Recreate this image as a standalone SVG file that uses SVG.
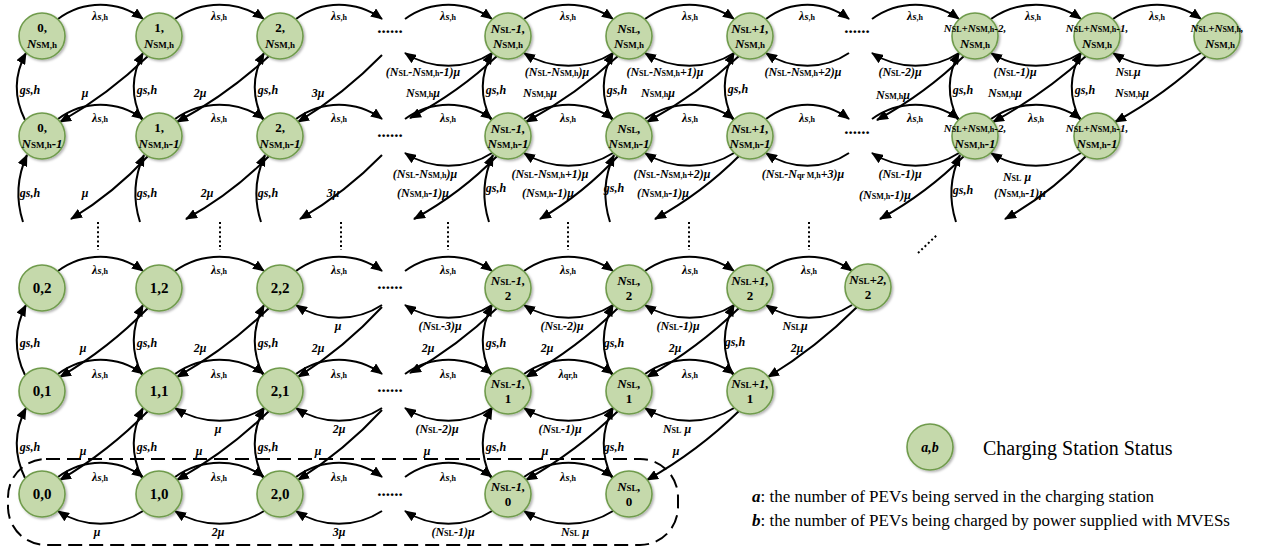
<svg xmlns="http://www.w3.org/2000/svg" width="1261" height="554" viewBox="0 0 1261 554">
<defs>
<marker id="ah" viewBox="0 0 12 10" refX="11" refY="5" markerWidth="12" markerHeight="10" orient="auto" markerUnits="userSpaceOnUse"><path d="M0,0 L12,5 L0,10 z" fill="#000"/></marker>
<filter id="sh" x="-20%" y="-20%" width="150%" height="150%"><feDropShadow dx="1.5" dy="1.5" stdDeviation="1.2" flood-color="#000" flood-opacity="0.3"/></filter>
<style>
.c{fill:none;stroke:#000;stroke-width:2;marker-end:url(#ah)}
.nd{fill:#c5d9ab;stroke:#6f9b4c;stroke-width:1.6;filter:url(#sh)}
.t{font-family:"Liberation Serif",serif;font-weight:bold;font-style:italic;font-size:12px;text-anchor:middle;fill:#000}
.b{font-size:8px;font-style:normal}
.m{font-size:10.5px}
.nt{font-family:"Liberation Serif",serif;font-weight:bold;font-size:13px;text-anchor:middle;fill:#000}
.i{font-style:italic}
.ns{font-size:9px;font-style:normal}
.sm{font-size:11px}
.ss{font-size:8px;font-style:normal}
.big{font-size:15px}
.dots{font-family:"Liberation Serif",serif;font-weight:bold;font-size:17px;text-anchor:middle}
.vd{stroke:#000;stroke-width:2;stroke-dasharray:2 2.6;fill:none}
.leg{font-family:"Liberation Serif",serif;fill:#000}
</style>
</defs>
<rect width="1261" height="554" fill="#fff"/>
<g id="connectors">
<rect x="8" y="459" width="670" height="86" rx="38" fill="none" stroke="#000" stroke-width="2" stroke-dasharray="14 7"/>
<path class="c" d="M58,19 C83.5,0 117.5,0 143,19"/>
<path class="c" d="M175,19 C201.7,0 237.3,0 264,19"/>
<path class="c" d="M296,19 C321.8,0 356.2,0 382,19"/>
<path class="c" d="M405,19 C431.1,0 465.9,0 492,19"/>
<path class="c" d="M524,19 C550.7,0 586.3,0 613,19"/>
<path class="c" d="M645,19 C671.7,0 707.3,0 734,19"/>
<path class="c" d="M766,19 C790.9,0 824.1,0 849,19"/>
<path class="c" d="M872,19 C898.1,0 932.9,0 959,19"/>
<path class="c" d="M991,19 C1018,0 1054,0 1081,19"/>
<path class="c" d="M1113,19 C1139.4,0 1174.6,0 1201,19"/>
<path class="c" d="M58,119 C83.5,100 117.5,100 143,119"/>
<path class="c" d="M175,119 C201.7,100 237.3,100 264,119"/>
<path class="c" d="M296,119 C321.8,100 356.2,100 382,119"/>
<path class="c" d="M405,119 C431.1,100 465.9,100 492,119"/>
<path class="c" d="M524,119 C550.7,100 586.3,100 613,119"/>
<path class="c" d="M645,119 C671.7,100 707.3,100 734,119"/>
<path class="c" d="M766,119 C790.9,100 824.1,100 849,119"/>
<path class="c" d="M872,119 C898.1,100 932.9,100 959,119"/>
<path class="c" d="M991,119 C1018,100 1054,100 1081,119"/>
<path class="c" d="M58,271 C83.5,252 117.5,252 143,271"/>
<path class="c" d="M175,271 C201.7,252 237.3,252 264,271"/>
<path class="c" d="M296,271 C321.8,252 356.2,252 382,271"/>
<path class="c" d="M405,271 C431.1,252 465.9,252 492,271"/>
<path class="c" d="M524,271 C550.7,252 586.3,252 613,271"/>
<path class="c" d="M645,271 C671.7,252 707.3,252 734,271"/>
<path class="c" d="M766,271 C791.8,252 826.2,252 852,271"/>
<path class="c" d="M58,374 C83.5,355 117.5,355 143,374"/>
<path class="c" d="M175,374 C201.7,355 237.3,355 264,374"/>
<path class="c" d="M296,374 C321.8,355 356.2,355 382,374"/>
<path class="c" d="M405,374 C431.1,355 465.9,355 492,374"/>
<path class="c" d="M524,374 C550.7,355 586.3,355 613,374"/>
<path class="c" d="M645,374 C671.7,355 707.3,355 734,374"/>
<path class="c" d="M58,477 C83.5,458 117.5,458 143,477"/>
<path class="c" d="M175,477 C201.7,458 237.3,458 264,477"/>
<path class="c" d="M296,477 C321.8,458 356.2,458 382,477"/>
<path class="c" d="M405,477 C431.1,458 465.9,458 492,477"/>
<path class="c" d="M524,477 C550.7,458 586.3,458 613,477"/>
<path class="c" d="M492,53 C465.9,70 431.1,70 405,53"/>
<path class="c" d="M613,53 C586.3,70 550.7,70 524,53"/>
<path class="c" d="M734,53 C707.3,70 671.7,70 645,53"/>
<path class="c" d="M849,53 C824.1,70 790.9,70 766,53"/>
<path class="c" d="M959,53 C932.9,70 898.1,70 872,53"/>
<path class="c" d="M1081,53 C1054,70 1018,70 991,53"/>
<path class="c" d="M1201,53 C1174.6,70 1139.4,70 1113,53"/>
<path class="c" d="M492,153 C465.9,170 431.1,170 405,153"/>
<path class="c" d="M613,153 C586.3,170 550.7,170 524,153"/>
<path class="c" d="M734,153 C707.3,170 671.7,170 645,153"/>
<path class="c" d="M849,153 C824.1,170 790.9,170 766,153"/>
<path class="c" d="M959,153 C932.9,170 898.1,170 872,153"/>
<path class="c" d="M1081,153 C1054,170 1018,170 991,153"/>
<path class="c" d="M382,305 C356.2,322 321.8,322 296,305"/>
<path class="c" d="M492,305 C465.9,322 431.1,322 405,305"/>
<path class="c" d="M613,305 C586.3,322 550.7,322 524,305"/>
<path class="c" d="M734,305 C707.3,322 671.7,322 645,305"/>
<path class="c" d="M852,305 C826.2,322 791.8,322 766,305"/>
<path class="c" d="M264,408 C237.3,425 201.7,425 175,408"/>
<path class="c" d="M382,408 C356.2,425 321.8,425 296,408"/>
<path class="c" d="M492,408 C465.9,425 431.1,425 405,408"/>
<path class="c" d="M613,408 C586.3,425 550.7,425 524,408"/>
<path class="c" d="M734,408 C707.3,425 671.7,425 645,408"/>
<path class="c" d="M143,511 C117.5,528 83.5,528 58,511"/>
<path class="c" d="M264,511 C237.3,528 201.7,528 175,511"/>
<path class="c" d="M382,511 C356.2,528 321.8,528 296,511"/>
<path class="c" d="M492,511 C465.9,528 431.1,528 405,511"/>
<path class="c" d="M613,511 C586.3,528 550.7,528 524,511"/>
<path class="c" d="M148,56 Q109,94 60,122"/>
<path class="c" d="M269,56 Q228,94 177,122"/>
<path class="c" d="M382,55 Q345,93 298,122"/>
<path class="c" d="M497,56 Q459,92 410,118"/>
<path class="c" d="M618,56 Q577,94 526,122"/>
<path class="c" d="M739,56 Q698,94 647,122"/>
<path class="c" d="M964,56 Q926,93 877,120"/>
<path class="c" d="M1086,56 Q1044,94 993,122"/>
<path class="c" d="M1206,56 Q1166,94 1115,122"/>
<path class="c" d="M148,156 Q114,193 71,219"/>
<path class="c" d="M269,156 Q233,193 186,219"/>
<path class="c" d="M382,155 Q346,192 300,219"/>
<path class="c" d="M497,156 Q461,193 414,219"/>
<path class="c" d="M618,156 Q584,193 540,219"/>
<path class="c" d="M739,156 Q702,193 655,219"/>
<path class="c" d="M964,156 Q927,193 880,219"/>
<path class="c" d="M1086,156 Q1051,193 1005,219"/>
<path class="c" d="M148,308 Q109,348 60,377"/>
<path class="c" d="M269,308 Q228,348 177,377"/>
<path class="c" d="M382,307 Q345,347 298,377"/>
<path class="c" d="M497,308 Q458,346 410,373"/>
<path class="c" d="M618,308 Q577,348 526,377"/>
<path class="c" d="M739,308 Q698,348 647,377"/>
<path class="c" d="M857,307 Q817,347 768,377"/>
<path class="c" d="M148,411 Q109,451 60,480"/>
<path class="c" d="M269,411 Q228,451 177,480"/>
<path class="c" d="M382,410 Q345,450 298,480"/>
<path class="c" d="M618,411 Q577,451 526,480"/>
<path class="c" d="M739,411 Q698,451 647,480"/>
<path class="c" d="M25,120 Q8,86 26,53"/>
<path class="c" d="M142,120 Q125,86 143,53"/>
<path class="c" d="M263,120 Q246,86 264,53"/>
<path class="c" d="M491,120 Q474,86 492,53"/>
<path class="c" d="M612,120 Q595,86 613,53"/>
<path class="c" d="M733,120 Q716,86 734,53"/>
<path class="c" d="M958,120 Q941,86 959,53"/>
<path class="c" d="M1080,120 Q1063,86 1081,53"/>
<path class="c" d="M23,222 Q12,188 27,155"/>
<path class="c" d="M140,222 Q129,188 144,155"/>
<path class="c" d="M261,222 Q250,188 265,155"/>
<path class="c" d="M489,222 Q478,188 493,155"/>
<path class="c" d="M610,222 Q599,188 614,155"/>
<path class="c" d="M956,222 Q945,188 960,155"/>
<path class="c" d="M25,375 Q8,340 26,305"/>
<path class="c" d="M142,375 Q125,340 143,305"/>
<path class="c" d="M263,375 Q246,340 264,305"/>
<path class="c" d="M491,375 Q474,340 492,305"/>
<path class="c" d="M612,375 Q595,340 613,305"/>
<path class="c" d="M733,375 Q716,340 734,305"/>
<path class="c" d="M25,478 Q8,443 26,408"/>
<path class="c" d="M142,478 Q125,443 143,408"/>
<path class="c" d="M263,478 Q246,443 264,408"/>
<path class="c" d="M491,478 Q474,443 492,408"/>
<path class="c" d="M612,478 Q595,443 613,408"/>
<path class="vd" d="M98,222V250 M220,222V250 M341,222V250 M448,222V250 M568,222V250 M689,222V250 M809,222V250 M918,253L937,235"/>
<g class="dots">
<text x="390" y="33">......</text><text x="857" y="33">......</text>
<text x="390" y="137">......</text><text x="857" y="134">......</text>
<text x="390" y="289">......</text><text x="390" y="392">......</text><text x="390" y="496">......</text>
</g>
</g>
<g id="connector-labels" class="t">
<text x="100" y="20">λ<tspan class="m">s</tspan><tspan class="b">,h</tspan></text>
<text x="219" y="20">λ<tspan class="m">s</tspan><tspan class="b">,h</tspan></text>
<text x="339" y="20">λ<tspan class="m">s</tspan><tspan class="b">,h</tspan></text>
<text x="448" y="20">λ<tspan class="m">s</tspan><tspan class="b">,h</tspan></text>
<text x="568" y="20">λ<tspan class="m">s</tspan><tspan class="b">,h</tspan></text>
<text x="690" y="20">λ<tspan class="m">s</tspan><tspan class="b">,h</tspan></text>
<text x="807" y="20">λ<tspan class="m">s</tspan><tspan class="b">,h</tspan></text>
<text x="915" y="20">λ<tspan class="m">s</tspan><tspan class="b">,h</tspan></text>
<text x="1033" y="20">λ<tspan class="m">s</tspan><tspan class="b">,h</tspan></text>
<text x="1157" y="20">λ<tspan class="m">s</tspan><tspan class="b">,h</tspan></text>
<text x="100" y="122">λ<tspan class="m">s</tspan><tspan class="b">,h</tspan></text>
<text x="219" y="122">λ<tspan class="m">s</tspan><tspan class="b">,h</tspan></text>
<text x="339" y="122">λ<tspan class="m">s</tspan><tspan class="b">,h</tspan></text>
<text x="448" y="122">λ<tspan class="m">s</tspan><tspan class="b">,h</tspan></text>
<text x="568" y="122">λ<tspan class="m">s</tspan><tspan class="b">,h</tspan></text>
<text x="690" y="122">λ<tspan class="m">s</tspan><tspan class="b">,h</tspan></text>
<text x="807" y="122">λ<tspan class="m">s</tspan><tspan class="b">,h</tspan></text>
<text x="915" y="122">λ<tspan class="m">s</tspan><tspan class="b">,h</tspan></text>
<text x="1036" y="122">λ<tspan class="m">s</tspan><tspan class="b">,h</tspan></text>
<text x="100" y="274">λ<tspan class="m">s</tspan><tspan class="b">,h</tspan></text>
<text x="219" y="274">λ<tspan class="m">s</tspan><tspan class="b">,h</tspan></text>
<text x="339" y="274">λ<tspan class="m">s</tspan><tspan class="b">,h</tspan></text>
<text x="448" y="274">λ<tspan class="m">s</tspan><tspan class="b">,h</tspan></text>
<text x="568" y="274">λ<tspan class="m">s</tspan><tspan class="b">,h</tspan></text>
<text x="690" y="274">λ<tspan class="m">s</tspan><tspan class="b">,h</tspan></text>
<text x="809" y="274">λ<tspan class="m">s</tspan><tspan class="b">,h</tspan></text>
<text x="100" y="378">λ<tspan class="m">s</tspan><tspan class="b">,h</tspan></text>
<text x="219" y="378">λ<tspan class="m">s</tspan><tspan class="b">,h</tspan></text>
<text x="339" y="378">λ<tspan class="m">s</tspan><tspan class="b">,h</tspan></text>
<text x="448" y="378">λ<tspan class="m">s</tspan><tspan class="b">,h</tspan></text>
<text x="568" y="378">λ<tspan class="b">qr,h</tspan></text>
<text x="690" y="378">λ<tspan class="m">s</tspan><tspan class="b">,h</tspan></text>
<text x="100" y="481">λ<tspan class="m">s</tspan><tspan class="b">,h</tspan></text>
<text x="219" y="481">λ<tspan class="m">s</tspan><tspan class="b">,h</tspan></text>
<text x="339" y="481">λ<tspan class="m">s</tspan><tspan class="b">,h</tspan></text>
<text x="448" y="481">λ<tspan class="m">s</tspan><tspan class="b">,h</tspan></text>
<text x="568" y="481">λ<tspan class="m">s</tspan><tspan class="b">,h</tspan></text>
<text x="423" y="76">(N<tspan class="b">SL</tspan>-N<tspan class="b">SM,h</tspan>-1)μ</text>
<text x="557" y="76">(N<tspan class="b">SL</tspan>-N<tspan class="b">SM,h</tspan>)μ</text>
<text x="665" y="76">(N<tspan class="b">SL</tspan>-N<tspan class="b">SM,h</tspan>+1)μ</text>
<text x="803" y="76">(N<tspan class="b">SL</tspan>-N<tspan class="b">SM,h</tspan>+2)μ</text>
<text x="900" y="76">(N<tspan class="b">SL</tspan>-2)μ</text>
<text x="1015" y="76">(N<tspan class="b">SL</tspan>-1)μ</text>
<text x="1128" y="76">N<tspan class="b">SL</tspan>μ</text>
<text x="425" y="178">(N<tspan class="b">SL</tspan>-N<tspan class="b">SM,h</tspan>)μ</text>
<text x="550" y="178">(N<tspan class="b">SL</tspan>-N<tspan class="b">SM,h</tspan>+1)μ</text>
<text x="672" y="178">(N<tspan class="b">SL</tspan>-N<tspan class="b">SM,h</tspan>+2)μ</text>
<text x="803" y="178">(N<tspan class="b">SL</tspan>-N<tspan class="b">qr M,h</tspan>+3)μ</text>
<text x="900" y="178">(N<tspan class="b">SL</tspan>-1)μ</text>
<text x="1017" y="181">N<tspan class="b">SL</tspan> μ</text>
<text x="338" y="330">μ</text>
<text x="440" y="330">(N<tspan class="b">SL</tspan>-3)μ</text>
<text x="562" y="330">(N<tspan class="b">SL</tspan>-2)μ</text>
<text x="678" y="330">(N<tspan class="b">SL</tspan>-1)μ</text>
<text x="795" y="330">N<tspan class="b">SL</tspan>μ</text>
<text x="218" y="433">μ</text>
<text x="339" y="433">2μ</text>
<text x="437" y="433">(N<tspan class="b">SL</tspan>-2)μ</text>
<text x="560" y="433">(N<tspan class="b">SL</tspan>-1)μ</text>
<text x="677" y="433">N<tspan class="b">SL</tspan> μ</text>
<text x="97" y="536">μ</text>
<text x="218" y="536">2μ</text>
<text x="339" y="536">3μ</text>
<text x="453" y="536">(N<tspan class="b">SL</tspan>-1)μ</text>
<text x="575" y="536">N<tspan class="b">SL</tspan> μ</text>
<text x="85" y="97">μ</text>
<text x="200" y="97">2μ</text>
<text x="318" y="97">3μ</text>
<text x="423" y="97">N<tspan class="b">SM,h</tspan>μ</text>
<text x="540" y="97">N<tspan class="b">SM,h</tspan>μ</text>
<text x="658" y="97">N<tspan class="b">SM,h</tspan>μ</text>
<text x="893" y="99">N<tspan class="b">SM,h</tspan>μ</text>
<text x="1005" y="97">N<tspan class="b">SM,h</tspan>μ</text>
<text x="1132" y="97">N<tspan class="b">SM,h</tspan>μ</text>
<text x="85" y="197">μ</text>
<text x="207" y="197">2μ</text>
<text x="333" y="197">3μ</text>
<text x="423" y="197">(N<tspan class="b">SM,h</tspan>-1)μ</text>
<text x="548" y="197">(N<tspan class="b">SM,h</tspan>-1)μ</text>
<text x="663" y="197">(N<tspan class="b">SM,h</tspan>-1)μ</text>
<text x="885" y="199">(N<tspan class="b">SM,h</tspan>-1)μ</text>
<text x="1020" y="197">(N<tspan class="b">SM,h</tspan>-1)μ</text>
<text x="83" y="352">μ</text>
<text x="200" y="352">2μ</text>
<text x="318" y="352">2μ</text>
<text x="428" y="352">2μ</text>
<text x="547" y="352">2μ</text>
<text x="675" y="352">2μ</text>
<text x="797" y="352">2μ</text>
<text x="83" y="455">μ</text>
<text x="199" y="455">μ</text>
<text x="318" y="455">μ</text>
<text x="427" y="455">μ</text>
<text x="545" y="455">μ</text>
<text x="676" y="455">μ</text>
<text x="30" y="94">gs,h</text><text x="147" y="94">gs,h</text><text x="268" y="94">gs,h</text><text x="496" y="94">gs,h</text><text x="617" y="94">gs,h</text><text x="738" y="93">gs,h</text><text x="963" y="94">gs,h</text><text x="1085" y="94">gs,h</text>
<text x="30" y="197">gs,h</text><text x="147" y="197">gs,h</text><text x="268" y="197">gs,h</text><text x="496" y="192">gs,h</text><text x="614" y="192">gs,h</text><text x="963" y="194">gs,h</text>
<text x="30" y="347">gs,h</text><text x="147" y="347">gs,h</text><text x="268" y="347">gs,h</text><text x="496" y="347">gs,h</text><text x="614" y="347">gs,h</text><text x="735" y="346">gs,h</text>
<text x="30" y="451">gs,h</text><text x="147" y="451">gs,h</text><text x="268" y="451">gs,h</text><text x="496" y="451">gs,h</text><text x="614" y="451">gs,h</text>
</g>
<g id="n-0-NSMh"><circle class="nd" cx="42" cy="36" r="23"/><text class="nt" x="42" y="32">0,</text><text class="nt" x="42" y="48"><tspan class="i">N</tspan><tspan class="ns">SM,h</tspan></text></g>
<g id="n-1-NSMh"><circle class="nd" cx="159" cy="36" r="23"/><text class="nt" x="159" y="32">1,</text><text class="nt" x="159" y="48"><tspan class="i">N</tspan><tspan class="ns">SM,h</tspan></text></g>
<g id="n-2-NSMh"><circle class="nd" cx="280" cy="36" r="23"/><text class="nt" x="280" y="32">2,</text><text class="nt" x="280" y="48"><tspan class="i">N</tspan><tspan class="ns">SM,h</tspan></text></g>
<g id="n-NSLm1-NSMh"><circle class="nd" cx="508" cy="36" r="23"/><text class="nt i" x="508" y="33">N<tspan class="ns">SL</tspan>-1,</text><text class="nt i" x="508" y="48">N<tspan class="ns">SM,h</tspan></text></g>
<g id="n-NSL-NSMh"><circle class="nd" cx="629" cy="36" r="23"/><text class="nt i" x="629" y="33">N<tspan class="ns">SL</tspan>,</text><text class="nt i" x="629" y="48">N<tspan class="ns">SM,h</tspan></text></g>
<g id="n-NSLp1-NSMh"><circle class="nd" cx="750" cy="36" r="23"/><text class="nt i" x="750" y="33">N<tspan class="ns">SL</tspan>+1,</text><text class="nt i" x="750" y="48">N<tspan class="ns">SM,h</tspan></text></g>
<g id="n-NSLpNSMm2-NSMh"><circle class="nd" cx="975" cy="36" r="23"/><text class="nt i sm" x="975" y="32">N<tspan class="ss">SL</tspan>+N<tspan class="ss">SM,h</tspan>-2,</text><text class="nt i" x="975" y="48">N<tspan class="ns">SM,h</tspan></text></g>
<g id="n-NSLpNSMm1-NSMh"><circle class="nd" cx="1097" cy="36" r="23"/><text class="nt i sm" x="1097" y="32">N<tspan class="ss">SL</tspan>+N<tspan class="ss">SM,h</tspan>-1,</text><text class="nt i" x="1097" y="48">N<tspan class="ns">SM,h</tspan></text></g>
<g id="n-NSLpNSM-NSMh"><circle class="nd" cx="1217" cy="36" r="23"/><text class="nt i sm" x="1217" y="32">N<tspan class="ss">SL</tspan>+N<tspan class="ss">SM,h</tspan>,</text><text class="nt i" x="1220" y="48">N<tspan class="ns">SM,h</tspan></text></g>
<g id="n-0-NSMhm1"><circle class="nd" cx="42" cy="136" r="23"/><text class="nt" x="42" y="132">0,</text><text class="nt i" x="42" y="148">N<tspan class="ns">SM,h</tspan>-1</text></g>
<g id="n-1-NSMhm1"><circle class="nd" cx="159" cy="136" r="23"/><text class="nt" x="159" y="132">1,</text><text class="nt i" x="159" y="148">N<tspan class="ns">SM,h</tspan>-1</text></g>
<g id="n-2-NSMhm1"><circle class="nd" cx="280" cy="136" r="23"/><text class="nt" x="280" y="132">2,</text><text class="nt i" x="280" y="148">N<tspan class="ns">SM,h</tspan>-1</text></g>
<g id="n-NSLm1-NSMhm1"><circle class="nd" cx="508" cy="136" r="23"/><text class="nt i" x="508" y="133">N<tspan class="ns">SL</tspan>-1,</text><text class="nt i" x="508" y="148">N<tspan class="ns">SM,h</tspan>-1</text></g>
<g id="n-NSL-NSMhm1"><circle class="nd" cx="629" cy="136" r="23"/><text class="nt i" x="629" y="133">N<tspan class="ns">SL</tspan>,</text><text class="nt i" x="629" y="148">N<tspan class="ns">SM,h</tspan>-1</text></g>
<g id="n-NSLp1-NSMhm1"><circle class="nd" cx="750" cy="136" r="23"/><text class="nt i" x="750" y="133">N<tspan class="ns">SL</tspan>+1,</text><text class="nt i" x="750" y="148">N<tspan class="ns">SM,h</tspan>-1</text></g>
<g id="n-NSLpNSMm2-NSMhm1"><circle class="nd" cx="975" cy="136" r="23"/><text class="nt i sm" x="975" y="132">N<tspan class="ss">SL</tspan>+N<tspan class="ss">SM,h</tspan>-2,</text><text class="nt i" x="975" y="148">N<tspan class="ns">SM,h</tspan>-1</text></g>
<g id="n-NSLpNSMm1-NSMhm1"><circle class="nd" cx="1097" cy="136" r="23"/><text class="nt i sm" x="1097" y="132">N<tspan class="ss">SL</tspan>+N<tspan class="ss">SM,h</tspan>-1,</text><text class="nt i" x="1097" y="148">N<tspan class="ns">SM,h</tspan>-1</text></g>
<g id="n-0-2"><circle class="nd" cx="42" cy="288" r="23"/><text class="nt big" x="42" y="293">0,2</text></g>
<g id="n-1-2"><circle class="nd" cx="159" cy="288" r="23"/><text class="nt big" x="159" y="293">1,2</text></g>
<g id="n-2-2"><circle class="nd" cx="280" cy="288" r="23"/><text class="nt big" x="280" y="293">2,2</text></g>
<g id="n-NSLm1-2"><circle class="nd" cx="508" cy="288" r="23"/><text class="nt i" x="508" y="285">N<tspan class="ns">SL</tspan>-1,</text><text class="nt" x="508" y="300">2</text></g>
<g id="n-NSL-2"><circle class="nd" cx="629" cy="288" r="23"/><text class="nt i" x="629" y="285">N<tspan class="ns">SL</tspan>,</text><text class="nt" x="629" y="300">2</text></g>
<g id="n-NSLp1-2"><circle class="nd" cx="750" cy="288" r="23"/><text class="nt i" x="750" y="285">N<tspan class="ns">SL</tspan>+1,</text><text class="nt" x="750" y="300">2</text></g>
<g id="n-NSLp2-2"><circle class="nd" cx="868" cy="287" r="23"/><text class="nt i" x="868" y="284">N<tspan class="ns">SL</tspan>+2,</text><text class="nt" x="868" y="299">2</text></g>
<g id="n-0-1"><circle class="nd" cx="42" cy="391" r="23"/><text class="nt big" x="42" y="396">0,1</text></g>
<g id="n-1-1"><circle class="nd" cx="159" cy="391" r="23"/><text class="nt big" x="159" y="396">1,1</text></g>
<g id="n-2-1"><circle class="nd" cx="280" cy="391" r="23"/><text class="nt big" x="280" y="396">2,1</text></g>
<g id="n-NSLm1-1"><circle class="nd" cx="508" cy="391" r="23"/><text class="nt i" x="508" y="388">N<tspan class="ns">SL</tspan>-1,</text><text class="nt" x="508" y="403">1</text></g>
<g id="n-NSL-1"><circle class="nd" cx="629" cy="391" r="23"/><text class="nt i" x="629" y="388">N<tspan class="ns">SL</tspan>,</text><text class="nt" x="629" y="403">1</text></g>
<g id="n-NSLp1-1"><circle class="nd" cx="750" cy="391" r="23"/><text class="nt i" x="750" y="388">N<tspan class="ns">SL</tspan>+1,</text><text class="nt" x="750" y="403">1</text></g>
<g id="n-0-0"><circle class="nd" cx="42" cy="494" r="23"/><text class="nt big" x="42" y="499">0,0</text></g>
<g id="n-1-0"><circle class="nd" cx="159" cy="494" r="23"/><text class="nt big" x="159" y="499">1,0</text></g>
<g id="n-2-0"><circle class="nd" cx="280" cy="494" r="23"/><text class="nt big" x="280" y="499">2,0</text></g>
<g id="n-NSLm1-0"><circle class="nd" cx="508" cy="494" r="23"/><text class="nt i" x="508" y="491">N<tspan class="ns">SL</tspan>-1,</text><text class="nt" x="508" y="506">0</text></g>
<g id="n-NSL-0"><circle class="nd" cx="629" cy="494" r="23"/><text class="nt i" x="629" y="491">N<tspan class="ns">SL</tspan>,</text><text class="nt" x="629" y="506">0</text></g>
<g id="legend">
<circle class="nd" cx="930" cy="447" r="23"/><text class="nt i" x="930" y="452" style="font-size:14px">a,b</text>
<text class="leg" x="983" y="455" font-size="20">Charging Station Status</text>
<text class="leg" x="752" y="502" font-size="17"><tspan font-weight="bold" font-style="italic">a</tspan>: the number of PEVs being served in the charging station</text>
<text class="leg" x="752" y="526" font-size="17"><tspan font-weight="bold" font-style="italic">b</tspan>: the number of PEVs being charged by power supplied with MVESs</text>
</g>
</svg>
